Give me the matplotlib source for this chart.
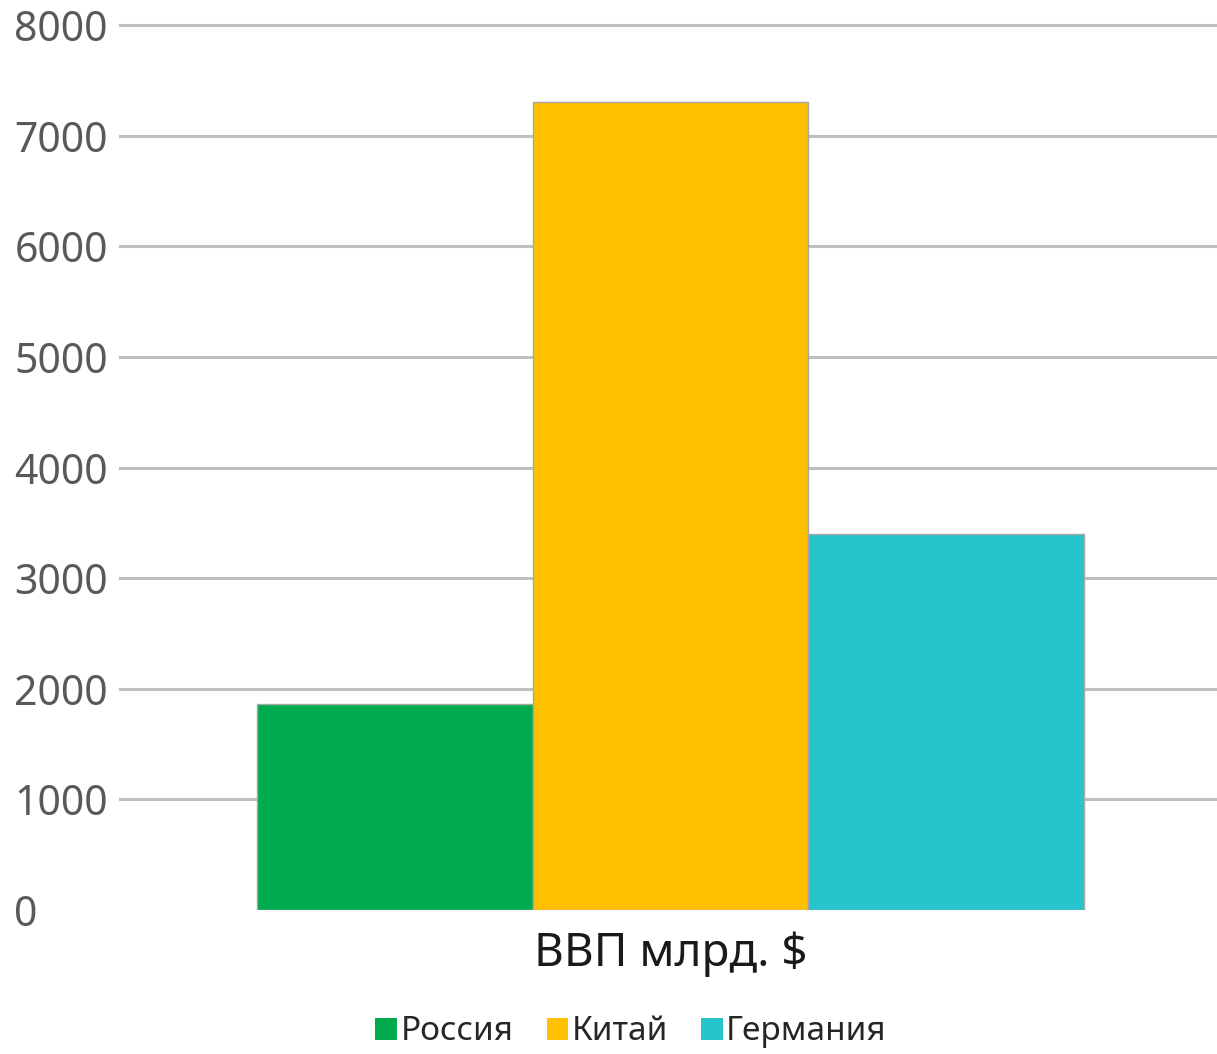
import matplotlib
matplotlib.use("Agg")
import matplotlib.pyplot as plt
from matplotlib.patches import Patch

# GDP, billions of US dollars
category = "ВВП млрд. $"
countries = ["Россия", "Китай", "Германия"]
gdp = [1860, 7300, 3400]
colors = ["#00AB4E", "#FFC000", "#27C4CC"]
yticks = [0, 1000, 2000, 3000, 4000, 5000, 6000, 7000, 8000]

plt.rcParams["font.family"] = ["Noto Sans", "DejaVu Sans"]

W, H = 1217, 1054
fig = plt.figure(figsize=(W / 100, H / 100), dpi=100)
ax = fig.add_axes([120 / W, 1 - 910 / H, (W - 120) / W, (910 - 25) / H])

# three series side by side within the single category
positions = [0, 1, 2]
ax.bar(positions, gdp, width=1.0, color=colors, edgecolor="#A6A6A6",
       linewidth=1.0, zorder=3)

ax.set_xlim(-0.996, 2.982)
ax.set_ylim(0, 8000)
ax.set_yticks(yticks)
ax.set_yticklabels([str(v) for v in yticks])
ax.yaxis.grid(True, color="#BFBFBF", linewidth=2.2, zorder=0)
for gl in ax.yaxis.get_gridlines():
    gl.set_clip_on(False)
ax.yaxis.get_gridlines()[0].set_visible(False)

ax.tick_params(axis="y", length=0, pad=76, labelsize=29.5, labelcolor="#595959")
for lbl in ax.get_yticklabels():
    lbl.set_horizontalalignment("left")

ax.set_xticks([1])
ax.set_xticklabels([category])
ax.tick_params(axis="x", length=0, pad=15, labelsize=33, labelcolor="#1A1A1A")

for s in ax.spines.values():
    s.set_visible(False)

handles = [Patch(facecolor=c, edgecolor="none", label=n) for c, n in zip(colors, countries)]
fig.legend(handles=handles, loc="center", bbox_to_anchor=(631 / W, 1 - 1032 / H),
           ncol=3, frameon=False, fontsize=24, handlelength=0.65, handleheight=0.65,
           handletextpad=0.1, columnspacing=1.0, labelcolor="#262626")

fig.savefig("out.png", dpi=100)
